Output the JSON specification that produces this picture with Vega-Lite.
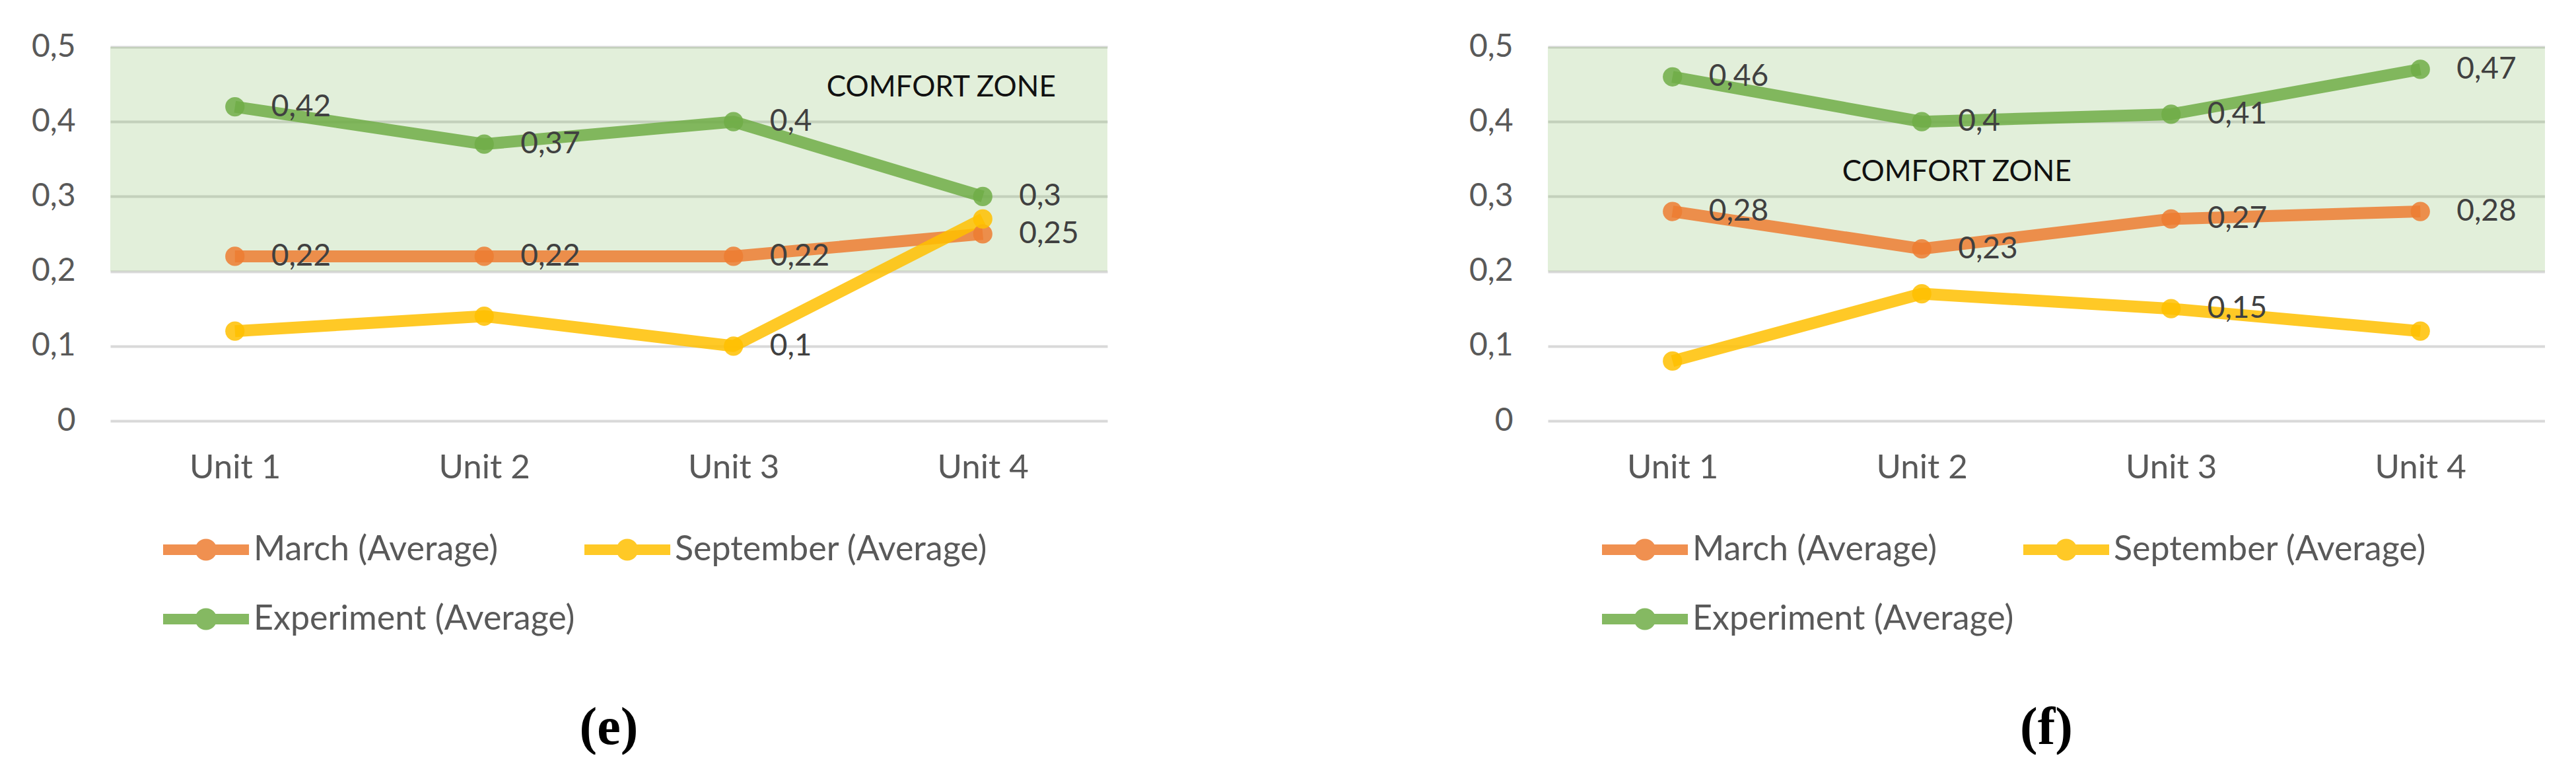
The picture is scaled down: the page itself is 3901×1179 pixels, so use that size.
{
  "$schema": "https://vega.github.io/schema/vega-lite/v6.json",
  "background": "white",
  "padding": {"left": 47, "top": 47, "right": 0, "bottom": 0},
  "config": {
    "locale": {"number": {"decimal": ",", "thousands": ".", "grouping": [3], "currency": ["", " €"]}},
    "view": {"stroke": null},
    "font": "Lato",
    "axisY": {"grid": true, "gridColor": "#D9D9D9", "gridWidth": 4, "ticks": false, "domain": false, "labelFontSize": 48, "labelColor": "#595959", "labelFont": "Lato", "labelPadding": 53},
    "axisX": {"grid": false, "ticks": false, "domain": false, "labelAngle": 0, "labelFontSize": 51, "labelColor": "#595959", "labelFont": "Lato", "labelPadding": 46},
    "legend": {"orient": "none", "direction": "horizontal", "legendY": 735, "columns": 2, "title": null, "symbolType": "M-1,-0.47H6.65V0.47H-1Z M1.85,0A0.97,0.97 0 1,1 3.79,0A0.97,0.97 0 1,1 1.85,0Z", "symbolSize": 1156, "symbolStrokeWidth": 0, "labelOffset": 94, "labelFontSize": 52, "labelColor": "#595959", "labelFont": "Lato", "rowPadding": 53, "columnPadding": 5, "labelLimit": 1000},
    "title": {"font": "Liberation Serif", "fontSize": 80, "fontWeight": "bold", "color": "#000000", "orient": "bottom", "anchor": "middle", "offset": 100}
  },
  "datasets": {
    "pts": [
      {"chart": "e", "unit": "Unit 1", "series": "March (Average)", "value": 0.22},
      {"chart": "e", "unit": "Unit 2", "series": "March (Average)", "value": 0.22},
      {"chart": "e", "unit": "Unit 3", "series": "March (Average)", "value": 0.22},
      {"chart": "e", "unit": "Unit 4", "series": "March (Average)", "value": 0.25},
      {"chart": "e", "unit": "Unit 1", "series": "September (Average)", "value": 0.12},
      {"chart": "e", "unit": "Unit 2", "series": "September (Average)", "value": 0.14},
      {"chart": "e", "unit": "Unit 3", "series": "September (Average)", "value": 0.1},
      {"chart": "e", "unit": "Unit 4", "series": "September (Average)", "value": 0.27},
      {"chart": "e", "unit": "Unit 1", "series": "Experiment (Average)", "value": 0.42},
      {"chart": "e", "unit": "Unit 2", "series": "Experiment (Average)", "value": 0.37},
      {"chart": "e", "unit": "Unit 3", "series": "Experiment (Average)", "value": 0.4},
      {"chart": "e", "unit": "Unit 4", "series": "Experiment (Average)", "value": 0.3},
      {"chart": "f", "unit": "Unit 1", "series": "March (Average)", "value": 0.28},
      {"chart": "f", "unit": "Unit 2", "series": "March (Average)", "value": 0.23},
      {"chart": "f", "unit": "Unit 3", "series": "March (Average)", "value": 0.27},
      {"chart": "f", "unit": "Unit 4", "series": "March (Average)", "value": 0.28},
      {"chart": "f", "unit": "Unit 1", "series": "September (Average)", "value": 0.08},
      {"chart": "f", "unit": "Unit 2", "series": "September (Average)", "value": 0.17},
      {"chart": "f", "unit": "Unit 3", "series": "September (Average)", "value": 0.15},
      {"chart": "f", "unit": "Unit 4", "series": "September (Average)", "value": 0.12},
      {"chart": "f", "unit": "Unit 1", "series": "Experiment (Average)", "value": 0.46},
      {"chart": "f", "unit": "Unit 2", "series": "Experiment (Average)", "value": 0.4},
      {"chart": "f", "unit": "Unit 3", "series": "Experiment (Average)", "value": 0.41},
      {"chart": "f", "unit": "Unit 4", "series": "Experiment (Average)", "value": 0.47}
    ],
    "zone": [{"lo": 0.2, "hi": 0.5}]
  },
  "spacing": 547,
  "resolve": {"scale": {"x": "independent", "y": "independent", "color": "independent"}, "legend": {"color": "independent"}},
  "hconcat": [
    {
      "width": 1510,
      "height": 566,
      "title": {"text": "(e)"},
      "layer": [
        {
          "data": {"name": "zone"},
          "mark": {"type": "rect", "fill": "#70AD47", "opacity": 0.2},
          "encoding": {
            "y": {"field": "lo", "type": "quantitative", "title": null, "scale": {"domain": [0, 0.5], "nice": false}, "axis": {"values": [0, 0.1, 0.2, 0.3, 0.4, 0.5], "format": ".1~f"}},
            "y2": {"field": "hi"}
          }
        },
        {
          "data": {"name": "pts"},
          "transform": [{"filter": "datum.chart === 'e'"}],
          "mark": {"type": "line", "strokeWidth": 18, "strokeJoin": "round", "opacity": 0.85},
          "encoding": {
            "x": {"field": "unit", "type": "nominal", "title": null, "sort": null, "scale": {"type": "point", "padding": 0.5}},
            "y": {"field": "value", "type": "quantitative", "title": null},
            "color": {"field": "series", "type": "nominal", "sort": null, "scale": {"domain": ["March (Average)", "September (Average)", "Experiment (Average)"], "range": ["#ED7D31", "#FFC000", "#70AD47"]}, "legend": {"legendX": 71}}
          }
        },
        {
          "data": {"name": "pts"},
          "transform": [{"filter": "datum.chart === 'e'"}],
          "mark": {"type": "point", "filled": true, "size": 855, "opacity": 0.85},
          "encoding": {
            "x": {"field": "unit", "type": "nominal", "title": null, "sort": null},
            "y": {"field": "value", "type": "quantitative", "title": null},
            "color": {"field": "series", "type": "nominal", "sort": null, "scale": {"domain": ["March (Average)", "September (Average)", "Experiment (Average)"], "range": ["#ED7D31", "#FFC000", "#70AD47"]}, "legend": {"legendX": 71}}
          }
        },
        {
          "data": {"name": "pts"},
          "transform": [{"filter": "datum.chart === 'e'"}, {"filter": "datum.series !== 'September (Average)' || datum.unit === 'Unit 3'"}],
          "mark": {"type": "text", "align": "left", "baseline": "middle", "dx": 55, "fontSize": 46, "font": "Lato", "color": "#404040"},
          "encoding": {
            "x": {"field": "unit", "type": "nominal", "title": null, "sort": null},
            "y": {"field": "value", "type": "quantitative", "title": null},
            "text": {"field": "value", "type": "quantitative", "format": ".2~f"}
          }
        },
        {
          "data": {"values": [{}]},
          "mark": {"type": "text", "text": "COMFORT ZONE", "align": "center", "baseline": "middle", "dx": -63, "fontSize": 44, "font": "Lato", "color": "#111111"},
          "encoding": {
            "x": {"datum": "Unit 4", "type": "nominal"},
            "y": {"datum": 0.445, "type": "quantitative"}
          }
        }
      ]
    },
    {
      "width": 1510,
      "height": 566,
      "title": {"text": "(f)"},
      "layer": [
        {
          "data": {"name": "zone"},
          "mark": {"type": "rect", "fill": "#70AD47", "opacity": 0.2},
          "encoding": {
            "y": {"field": "lo", "type": "quantitative", "title": null, "scale": {"domain": [0, 0.5], "nice": false}, "axis": {"values": [0, 0.1, 0.2, 0.3, 0.4, 0.5], "format": ".1~f"}},
            "y2": {"field": "hi"}
          }
        },
        {
          "data": {"name": "pts"},
          "transform": [{"filter": "datum.chart === 'f'"}],
          "mark": {"type": "line", "strokeWidth": 18, "strokeJoin": "round", "opacity": 0.85},
          "encoding": {
            "x": {"field": "unit", "type": "nominal", "title": null, "sort": null, "scale": {"type": "point", "padding": 0.5}},
            "y": {"field": "value", "type": "quantitative", "title": null},
            "color": {"field": "series", "type": "nominal", "sort": null, "scale": {"domain": ["March (Average)", "September (Average)", "Experiment (Average)"], "range": ["#ED7D31", "#FFC000", "#70AD47"]}, "legend": {"legendX": 73}}
          }
        },
        {
          "data": {"name": "pts"},
          "transform": [{"filter": "datum.chart === 'f'"}],
          "mark": {"type": "point", "filled": true, "size": 855, "opacity": 0.85},
          "encoding": {
            "x": {"field": "unit", "type": "nominal", "title": null, "sort": null},
            "y": {"field": "value", "type": "quantitative", "title": null},
            "color": {"field": "series", "type": "nominal", "sort": null, "scale": {"domain": ["March (Average)", "September (Average)", "Experiment (Average)"], "range": ["#ED7D31", "#FFC000", "#70AD47"]}, "legend": {"legendX": 73}}
          }
        },
        {
          "data": {"name": "pts"},
          "transform": [{"filter": "datum.chart === 'f'"}, {"filter": "datum.series !== 'September (Average)' || datum.unit === 'Unit 3'"}],
          "mark": {"type": "text", "align": "left", "baseline": "middle", "dx": 55, "fontSize": 46, "font": "Lato", "color": "#404040"},
          "encoding": {
            "x": {"field": "unit", "type": "nominal", "title": null, "sort": null},
            "y": {"field": "value", "type": "quantitative", "title": null},
            "text": {"field": "value", "type": "quantitative", "format": ".2~f"}
          }
        },
        {
          "data": {"values": [{}]},
          "mark": {"type": "text", "text": "COMFORT ZONE", "align": "center", "baseline": "middle", "dx": 53, "fontSize": 44, "font": "Lato", "color": "#111111"},
          "encoding": {
            "x": {"datum": "Unit 2", "type": "nominal"},
            "y": {"datum": 0.332, "type": "quantitative"}
          }
        }
      ]
    }
  ]
}
